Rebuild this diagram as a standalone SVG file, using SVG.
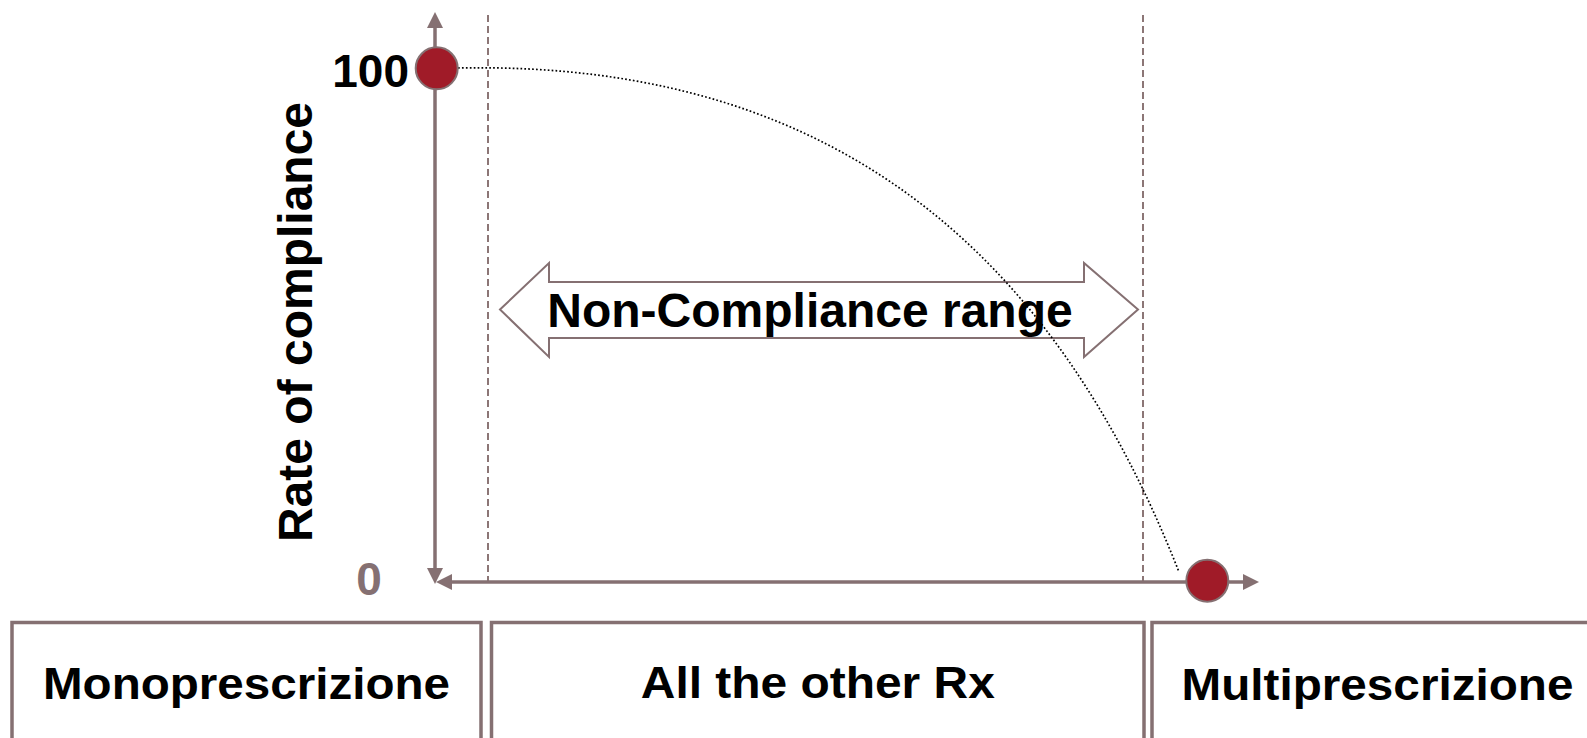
<svg xmlns="http://www.w3.org/2000/svg" width="1587" height="738" viewBox="0 0 1587 738">
<style>
.lbl{font-family:"Liberation Sans",Arial,sans-serif;font-weight:bold;fill:#000}
.ax{stroke:#857072;stroke-width:3.5;fill:none}
.dash{stroke:#8c7676;stroke-width:2;stroke-dasharray:7 4;fill:none}
.box{fill:#fff;stroke:#857072;stroke-width:3.5}
.dot{fill:#a01b28;stroke:#857072;stroke-width:2}
</style>
<defs>
<marker id="ah" viewBox="0 0 16 16" refX="0" refY="8" markerWidth="16" markerHeight="16" markerUnits="userSpaceOnUse" orient="auto-start-reverse">
<path d="M0,0 L16,8 L0,16 z" fill="#857072"/>
</marker>
</defs>
<rect width="1587" height="738" fill="#fff"/>
<g id="dividers">
<line class="dash" x1="488" y1="15" x2="488" y2="582"/>
<line class="dash" x1="1143" y1="15" x2="1143" y2="582"/>
</g>
<g id="range-arrow">
<polygon points="500,309.5 549,263 549,282 1084,282 1084,263 1138,309.5 1084,357 1084,338 549,338 549,357" fill="#fff" stroke="#857072" stroke-width="2"/>
<text class="lbl" x="810" y="327" font-size="48" text-anchor="middle">Non-Compliance range</text>
</g>
<g id="connectors">
<line class="ax" x1="435" y1="28" x2="435" y2="568" marker-start="url(#ah)" marker-end="url(#ah)"/>
<line class="ax" x1="452" y1="582" x2="1243" y2="582" marker-start="url(#ah)" marker-end="url(#ah)"/>
<path d="M458,68 C850,60 1060,270 1179,572" fill="none" stroke="#000" stroke-width="1.7" stroke-dasharray="1.7 2.2"/>
</g>
<g id="y-label">
<text class="lbl" font-size="48" text-anchor="middle" transform="translate(312,322) rotate(-90)">Rate of compliance</text>
</g>
<g id="tick-100">
<text class="lbl" x="409" y="86.5" font-size="46" text-anchor="end">100</text>
</g>
<g id="tick-0">
<text class="lbl" x="369" y="594.5" font-size="46" text-anchor="middle" style="fill:#857072">0</text>
</g>
<g id="point-start">
<circle class="dot" cx="436.7" cy="68.3" r="21"/>
</g>
<g id="point-end">
<circle class="dot" cx="1207.3" cy="580.7" r="21"/>
</g>
<g id="box-mono">
<rect class="box" x="12" y="622.5" width="469" height="140"/>
<text class="lbl" x="246.5" y="698.5" font-size="44" text-anchor="middle" textLength="407" lengthAdjust="spacingAndGlyphs">Monoprescrizione</text>
</g>
<g id="box-other">
<rect class="box" x="491.5" y="622.5" width="652.5" height="140"/>
<text class="lbl" x="817.8" y="697.5" font-size="44" text-anchor="middle" textLength="354" lengthAdjust="spacingAndGlyphs">All the other Rx</text>
</g>
<g id="box-multi">
<rect class="box" x="1152" y="622.5" width="500" height="140"/>
<text class="lbl" x="1377.5" y="699.5" font-size="44" text-anchor="middle" textLength="392" lengthAdjust="spacingAndGlyphs">Multiprescrizione</text>
</g>
</svg>
